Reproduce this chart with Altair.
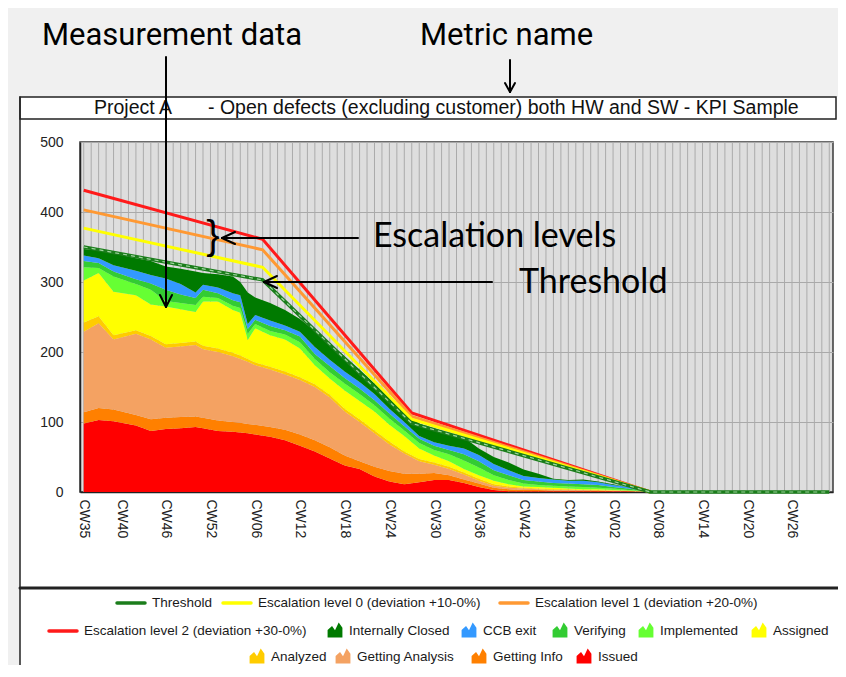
import json
import altair as alt
import pandas as pd

# ---------------- data ----------------
weeks = [0, 2, 4, 7, 9, 11, 13, 15, 16, 18, 20, 21, 22, 23, 25, 27, 29, 31, 33, 35,
         37, 39, 41, 43, 45, 47, 49, 51, 53, 55, 57, 59, 61, 63, 65, 67, 69, 71, 73, 75, 77]

issued = [98, 103, 101, 95, 87, 90, 91, 93, 91, 87, 86, 85, 84, 82, 79, 74, 66, 58, 48, 38,
          33, 22, 15, 11, 14, 17, 17, 13, 7, 3, 1, 1, 1, 1, 1, 1, 1, 1, 1, 0, 0]
getting_info = [16, 17, 17, 15, 17, 16, 16, 15, 15, 15, 14, 14, 13, 14, 14, 15, 16, 16, 16, 14,
                11, 14, 15, 15, 12, 10, 7, 5, 5, 3, 3, 2, 2, 1, 1, 1, 1, 0, 0, 0, 0]
getting_analysis = [115, 121, 100, 116, 114, 100, 101, 102, 98, 98, 94, 91, 89, 85, 82, 79, 78, 76, 71, 63,
                    56, 48, 38, 29, 18, 12, 9, 7, 4, 3, 2, 2, 1, 1, 1, 1, 0, 1, 0, 1, 0]
analyzed = [13, 10, 6, 5, 5, 5, 5, 5, 5, 5, 5, 5, 4, 4, 4, 4, 4, 4, 4, 4,
            4, 4, 4, 3, 3, 3, 3, 3, 3, 2, 2, 1, 1, 1, 1, 0, 1, 0, 1, 0, 0]
assigned = [60, 62, 62, 50, 45, 54, 48, 42, 63, 67, 61, 61, 27, 49, 45, 46, 41, 27, 23, 26,
            26, 27, 24, 22, 15, 10, 8, 5, 5, 5, 3, 2, 2, 2, 1, 1, 1, 1, 0, 0, 0]
implemented = [19, 7, 22, 16, 21, 8, 9, 10, 7, 5, 6, 7, 9, 6, 6, 7, 9, 9, 9, 10,
               10, 9, 9, 8, 8, 8, 10, 12, 11, 8, 6, 4, 3, 3, 3, 3, 2, 2, 1, 1, 0]
verifying = [9, 7, 7, 7, 9, 16, 12, 10, 10, 7, 8, 8, 7, 6, 7, 6, 8, 7, 9, 8,
             8, 7, 7, 6, 6, 6, 6, 9, 9, 7, 7, 5, 5, 4, 4, 4, 4, 2, 2, 0, 0]
ccb_exit = [8, 7, 9, 12, 12, 16, 15, 8, 7, 8, 10, 10, 7, 7, 8, 7, 7, 10, 9, 9,
            9, 9, 7, 6, 4, 5, 6, 8, 9, 9, 7, 6, 5, 5, 4, 5, 4, 3, 2, 1, 0]
internally_closed = [9, 11, 17, 18, 20, 17, 22, 30, 17, 19, 24, 19, 45, 25, 25, 22, 18, 23, 24, 22,
                     18, 15, 15, 13, 18, 20, 18, 16, 9, 10, 11, 9, 6, 1, 1, 2, 1, 1, 0, 0, 0]

statuses = ["Issued", "Getting Info", "Getting Analysis", "Analyzed", "Assigned",
            "Implemented", "Verifying", "CCB exit", "Internally Closed"]
status_colors = ["#ff0000", "#ff8000", "#f4a262", "#ffcc00", "#ffff00",
                 "#66ff33", "#33cc33", "#3399ff", "#007a00"]
series = [issued, getting_info, getting_analysis, analyzed, assigned,
          implemented, verifying, ccb_exit, internally_closed]

threshold_weeks = [0, 24, 44, 76, 100]
threshold = [350, 303, 98, 0, 0]
esc_weeks = [0, 24, 44, 76]
esc0 = [377, 321, 104, 0]
esc1 = [403, 346, 108, 0]
esc2 = [431, 361, 113, 0]

n_weeks = 101
label_idx = [0, 5, 11, 17, 23, 29, 35, 41, 47, 53, 59, 65, 71, 77, 83, 89, 95]
label_names = ["CW35", "CW40", "CW46", "CW52", "CW06", "CW12", "CW18", "CW24", "CW30",
               "CW36", "CW42", "CW48", "CW02", "CW08", "CW14", "CW20", "CW26"]

title_project = "Project A"
title_metric = "- Open defects (excluding customer) both HW and SW - KPI Sample"

legend_rows = [
    [("line", "Threshold", "#1b7d1b"),
     ("line", "Escalation level 0 (deviation +10-0%)", "#ffff00"),
     ("line", "Escalation level 1 (deviation +20-0%)", "#ff9933")],
    [("line", "Escalation level 2 (deviation +30-0%)", "#ff1a1a"),
     ("area", "Internally Closed", "#007a00"),
     ("area", "CCB exit", "#3399ff"),
     ("area", "Verifying", "#33cc33"),
     ("area", "Implemented", "#66ff33"),
     ("area", "Assigned", "#ffff00")],
    [("area", "Analyzed", "#ffcc00"),
     ("area", "Getting Analysis", "#f4a262"),
     ("area", "Getting Info", "#ff8000"),
     ("area", "Issued", "#ff0000")],
]
# layout (pixels relative to plot origin): text start x for each legend item, row y
legend_text_x = [[72, 178, 455], [4, 269, 403, 494, 580, 693], [191, 277, 413, 518]]
legend_row_y = [461, 489, 515]

# ---------------- build ----------------
rows = []
for rank, (name, vals) in enumerate(zip(statuses, series)):
    for w, v in zip(weeks, vals):
        rows.append({"week": w, "value": v, "status": name, "rank": rank})
df_area = pd.DataFrame(rows)
df_grid = pd.DataFrame({"week": list(range(n_weeks))})

FONT = "Liberation Sans"
W, H = 753, 350

lbl_expr = ("indexof({i}, datum.value) >= 0 ? {n}[indexof({i}, datum.value)] : ''"
            .format(i=json.dumps(label_idx), n=json.dumps(label_names)))

x_scale = alt.Scale(domain=[-0.5, n_weeks - 0.5], nice=False, zero=False)
x_enc = alt.X("week:Q", scale=x_scale,
              axis=alt.Axis(values=label_idx, labelExpr=lbl_expr, labelAngle=90,
                            labelFontSize=14, labelFont=FONT, labelColor="#222",
                            labelPadding=7, ticks=False, grid=False,
                            domainColor="#222", domainWidth=1.5, title=None,
                            labelOverlap=False, labelFlush=False, labelBound=False))
y_axis = alt.Axis(values=list(range(0, 501, 50)), labelFontSize=14, labelFont=FONT,
                  labelColor="#222", labelPadding=17, ticks=False, grid=True,
                  gridColor="#a9a9a9", gridWidth=1, domainColor="#222",
                  domainWidth=1.5, title=None)

vgrid = alt.Chart(df_grid).mark_rule(color="#ababab", strokeWidth=1).encode(
    x=x_enc, y=alt.value(0), y2=alt.value(H))

areas = alt.Chart(df_area).mark_area(interpolate="linear").encode(
    x=alt.X("week:Q"),
    y=alt.Y("value:Q", stack="zero", scale=alt.Scale(domain=[0, 500], nice=False), axis=y_axis),
    color=alt.Color("status:N", scale=alt.Scale(domain=statuses, range=status_colors), legend=None),
    order=alt.Order("rank:Q", sort="ascending"),
)


def line_layer(ws, vs, color, width, dash=None):
    d = pd.DataFrame({"week": ws, "value": vs})
    kw = dict(color=color, strokeWidth=width)
    if dash:
        kw["strokeDash"] = dash
    return alt.Chart(d).mark_line(**kw).encode(x="week:Q", y=alt.Y("value:Q", stack=None))


lines = [
    line_layer(esc_weeks, esc2, "#ff1a1a", 3),
    line_layer(esc_weeks, esc1, "#ff9933", 3),
    line_layer(esc_weeks, esc0, "#ffff00", 3),
    line_layer(threshold_weeks, threshold, "#1b7d1b", 3.5),
    line_layer(threshold_weeks, threshold, "#9fd69f", 1.2, [4, 4]),
]

one = pd.DataFrame({"k": [1]})


def seg(x1, y1, x2, y2, color="#000", w=2):
    return alt.Chart(one).mark_rule(color=color, strokeWidth=w, strokeCap="round").encode(
        x=alt.value(x1), y=alt.value(y1), x2=alt.value(x2), y2=alt.value(y2))


def box(x1, y1, x2, y2, fill, stroke=None, sw=0):
    kw = dict(fill=fill)
    if stroke:
        kw.update(stroke=stroke, strokeWidth=sw)
    else:
        kw.update(strokeWidth=0)
    return alt.Chart(one).mark_rect(**kw).encode(
        x=alt.value(x1), y=alt.value(y1), x2=alt.value(x2), y2=alt.value(y2))


def txt(x, y, s, size, font=FONT, align="left", baseline="middle", color="#111"):
    return alt.Chart(one).mark_text(text=s, fontSize=size, font=font, align=align,
                                    baseline=baseline, color=color).encode(
        x=alt.value(x), y=alt.value(y))


back = [
    box(-72, -134, 758, -45, "#f0f0f0"),
    box(-72, -45, -60, 523, "#f0f0f0"),
    box(-60, -45, 756, -23, "#ffffff", "#222", 1.5),
    seg(-60, -45, -60, 523, "#222", 1.5),
    seg(-60, 446, 758, 446, "#222", 3),
    txt(53, -34, title_project, 19.5, align="center"),
    txt(128, -34, title_metric, 19.5),
]

ann = [
    txt(-38, -97, "Measurement data", 31, font="Roboto", baseline="alphabetic", color="#000"),
    txt(340, -97, "Metric name", 31, font="Roboto", baseline="alphabetic", color="#000"),
    txt(293, 105, "Escalation levels", 34, font="Lato", baseline="alphabetic", color="#000"),
    txt(439, 151, "Threshold", 34, font="Lato", baseline="alphabetic", color="#000"),
    txt(133, 95, "}", 40, font=FONT, align="center", color="#000"),
    # measurement data arrow
    seg(86, -85, 86, 164), seg(86, 165, 80, 153), seg(86, 165, 92, 153),
    # metric name arrow
    seg(430, -82, 430, -50), seg(430, -50, 425, -59), seg(430, -50, 435, -59),
    # escalation arrow
    seg(142, 96, 278, 96), seg(142, 96, 155, 90), seg(142, 96, 155, 102),
    # threshold arrow
    seg(184, 140, 412, 140), seg(184, 140, 197, 134), seg(184, 140, 197, 146),
]

mountain = "M-1,1 L-1,0 L-0.4,-0.55 L0,0.05 L0.5,-1 L1,-0.3 L1,1 Z"
legend = []
for items, xs, ry in zip(legend_rows, legend_text_x, legend_row_y):
    for (kind, label, color), tx in zip(items, xs):
        if kind == "line":
            legend.append(seg(tx - 35, ry, tx - 7, ry, color, 3.5))
        else:
            legend.append(alt.Chart(one).mark_point(shape=mountain, filled=True, size=220,
                                                    color=color, opacity=1, strokeWidth=0)
                          .encode(x=alt.value(tx - 14), y=alt.value(ry - 1)))
        legend.append(txt(tx, ry, label, 13.5, color="#1a1a1a"))

chart = alt.layer(vgrid, areas, *lines, *back, *legend, *ann).properties(
    width=W, height=H,
    autosize=alt.AutoSizeParams(type="none"),
    padding={"left": 72, "top": 134, "right": 5, "bottom": 173},
    background="#ffffff",
).configure_view(fill="#dedede", stroke="#3a3a3a", strokeWidth=1.5)

chart.save("out.html", embed_options={"renderer": "svg", "actions": False})
